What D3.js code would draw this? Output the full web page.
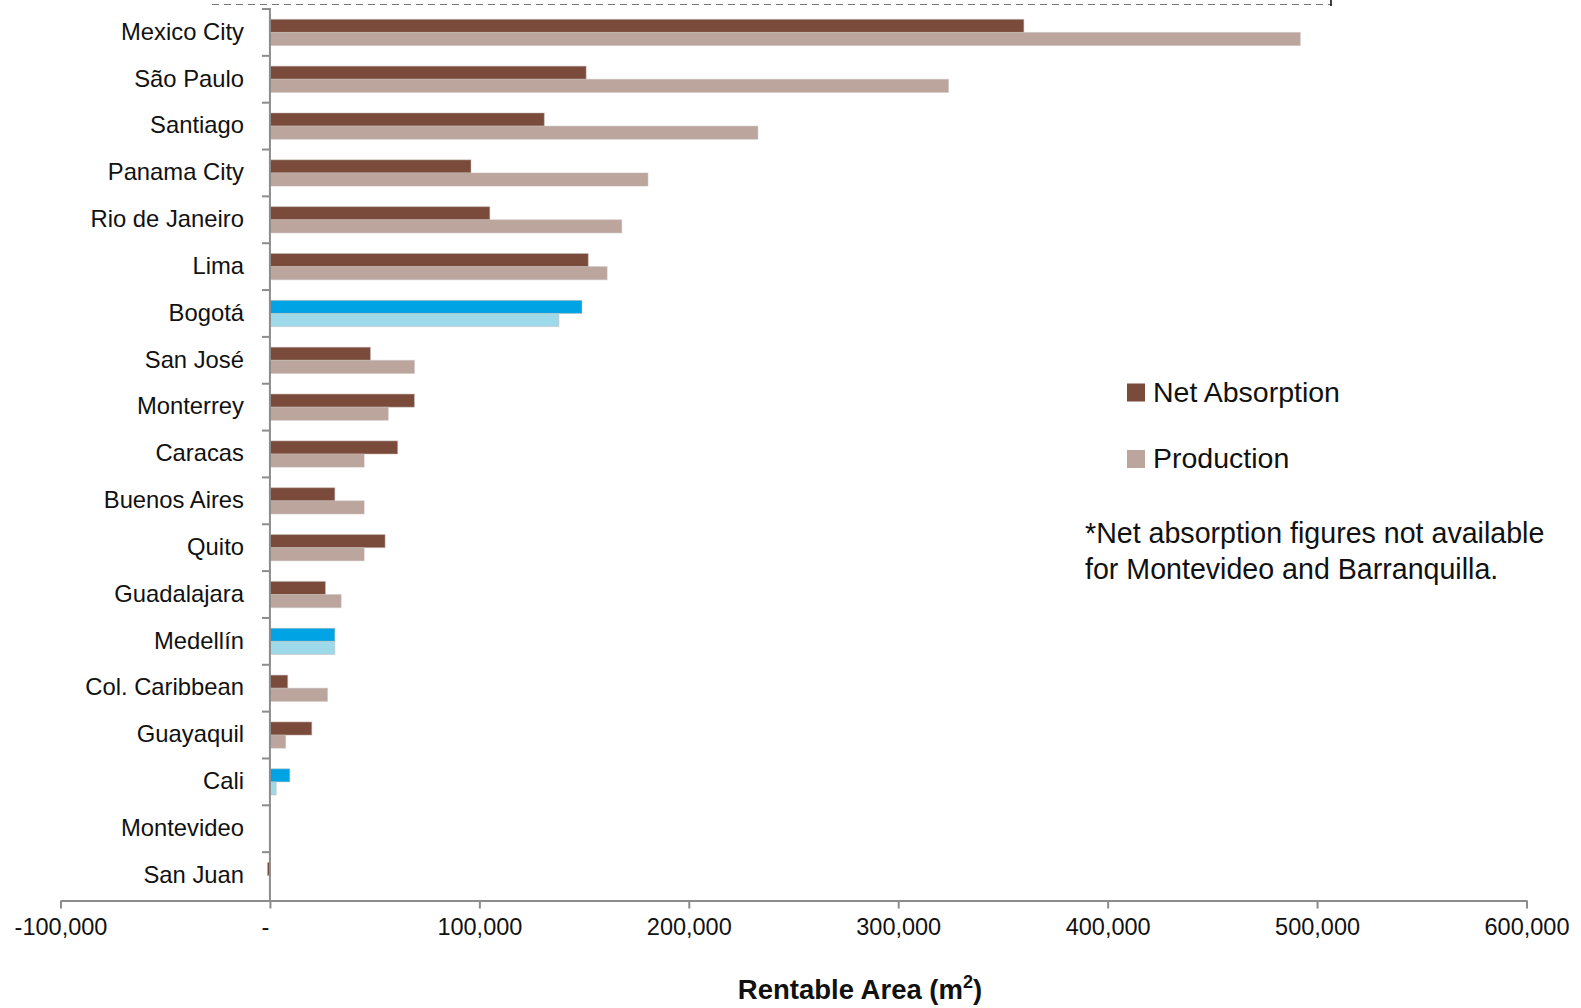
<!DOCTYPE html>
<html><head><meta charset="utf-8">
<script src="https://cdn.jsdelivr.net/npm/d3@7/dist/d3.min.js"></script>
<style>body{margin:0;background:#fff}svg{display:block}text{font-family:"Liberation Sans",Arial,sans-serif;fill:#111}</style>
</head><body><svg id="c" width="1581" height="1008"></svg>
<script>
const cities = ["Mexico City","São Paulo","Santiago","Panama City","Rio de Janeiro","Lima","Bogotá","San José","Monterrey","Caracas","Buenos Aires","Quito","Guadalajara","Medellín","Col. Caribbean","Guayaquil","Cali","Montevideo","San Juan"];
const netAbsorption = [360000,151000,131000,96000,105000,152000,149000,48000,69000,61000,31000,55000,26500,31000,8500,20000,9500,0,-1200];
const production = [492000,324000,233000,180500,168000,161000,138000,69000,56500,45000,45000,45000,34000,31000,27500,7500,3000,0,0];
const colombian = ["Bogotá","Medellín","Cali"];
const xTicks = [-100000,0,100000,200000,300000,400000,500000,600000];
const seriesNames = ["Net Absorption","Production"];
const colors = {net:"#7a4a3a", prod:"#bba59c", netCol:"#00a3e4", prodCol:"#9ed9ea"};

const svg = d3.select("#c");
const x = d3.scaleLinear().domain([-100000,600000]).range([60.5,1526.5]);
const y = d3.scaleBand().domain(cities).range([9,899]).paddingInner(0.44).paddingOuter(0.22);
const sub = d3.scaleBand().domain(["net","prod"]).range([0,y.bandwidth()]);

// dashed line at top
svg.append("line").attr("x1",212).attr("x2",1331).attr("y1",4.5).attr("y2",4.5)
  .attr("stroke","#777").attr("stroke-width",1).attr("stroke-dasharray","7,5");
svg.append("line").attr("x1",1331).attr("x2",1331).attr("y1",0).attr("y2",6).attr("stroke","#000").attr("stroke-width",1.5);

// bars
const rows = cities.map((c,i)=>({c,net:netAbsorption[i],prod:production[i],col:colombian.includes(c)}));
const g = svg.append("g");
rows.forEach(r=>{
  [["net",r.net],["prod",r.prod]].forEach(([k,v])=>{
    if(v===0) return;
    g.append("rect")
      .attr("x",x(Math.min(0,v))).attr("width",Math.abs(x(v)-x(0)))
      .attr("y",y(r.c)+sub(k)).attr("height",sub.bandwidth())
      .attr("fill", r.col ? (k==="net"?colors.netCol:colors.prodCol) : (k==="net"?colors.net:colors.prod))
      .attr("stroke","rgba(200,190,185,0.5)").attr("stroke-width",1);
  });
});

// x axis
const fmt = d3.format(",");
const xAxis = d3.axisBottom(x).tickValues(xTicks).tickSize(8).tickSizeOuter(0)
  .tickFormat(d=> d===0 ? "-" : (d<0 ? "-" + fmt(-d) : fmt(d)));
const xa = svg.append("g").attr("transform","translate(0,900.5)").call(xAxis);
xa.select(".domain").attr("stroke","#8c8c8c").attr("stroke-width",2);
xa.selectAll(".tick line").attr("stroke","#8c8c8c").attr("stroke-width",2);
xa.selectAll(".tick text").attr("dy",0).attr("y",28).attr("dominant-baseline","middle").style("font-size","23.5px").style("fill","#111");
xa.selectAll(".tick").filter(d=>d===0).select("text").attr("x",-5);

// y axis
const x0 = x(0);
svg.append("line").attr("x1",x0).attr("x2",x0).attr("y1",8).attr("y2",900).attr("stroke","#8c8c8c").attr("stroke-width",2);
const bounds = cities.map((c,i)=> y.range()[0] + i*y.step());
svg.selectAll(".ytick").data(bounds).join("line").attr("class","ytick")
  .attr("x1",x0-8).attr("x2",x0).attr("y1",d=>d).attr("y2",d=>d)
  .attr("stroke","#8c8c8c").attr("stroke-width",2);
svg.selectAll(".ylab").data(cities).join("text").attr("class","ylab")
  .attr("x",244).attr("y",d=>y(d)+y.bandwidth()/2+1).attr("text-anchor","end")
  .attr("dominant-baseline","middle").style("font-size","23.8px").text(d=>d);

// axis title
const t = svg.append("text").attr("x",860).attr("y",999).attr("text-anchor","middle")
  .style("font-size","27.5px").style("font-weight","bold");
t.append("tspan").text("Rentable Area (m");
t.append("tspan").attr("dy",-11).style("font-size","18px").text("2");
t.append("tspan").attr("dy",11).text(")");

// legend
const leg = [{n:seriesNames[0],c:colors.net,y:401.5},{n:seriesNames[1],c:colors.prod,y:468}];
leg.forEach(l=>{
  svg.append("rect").attr("x",1127).attr("y",l.y-18).attr("width",18).attr("height",18).attr("fill",l.c);
  svg.append("text").attr("x",1153).attr("y",l.y).style("font-size","28.5px").text(l.n);
});
svg.append("text").attr("x",1085).attr("y",543).style("font-size","28.6px").text("*Net absorption figures not available");
svg.append("text").attr("x",1085).attr("y",579).style("font-size","28.6px").text("for Montevideo and Barranquilla.");
</script></body></html>
